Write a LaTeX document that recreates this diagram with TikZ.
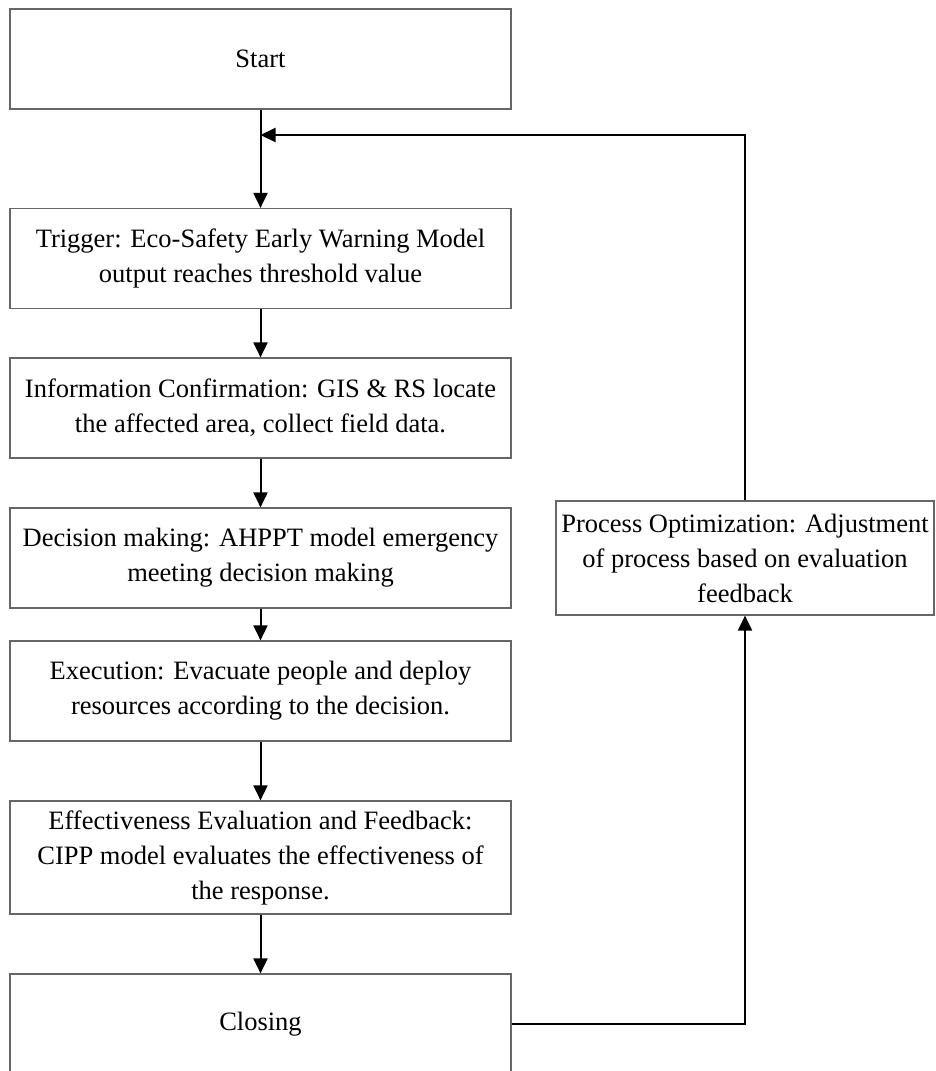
\documentclass[tikz,border=0pt]{standalone}
\usepackage{fontspec}
\setmainfont{Liberation Serif}
\usetikzlibrary{arrows.meta}
\begin{document}
\begin{tikzpicture}[x=1pt,y=1pt,
  box/.style={draw=black!60, line width=1.2pt, align=center, inner sep=0pt,
    font=\fontsize{26.5}{35}\selectfont, minimum width=501pt},
  flow/.style={line width=2pt, -{Triangle[length=15pt,width=14pt]}}]
\clip (0,0) rectangle (935,-1071);
\node[box, minimum height=100pt] (start) at (260.5,-59) {Start};
\node[box, minimum height=100pt] (trig) at (260.5,-258.5) {Trigger: Eco-Safety Early Warning Model\\output reaches threshold value};
\node[box, minimum height=100pt] (info) at (260.5,-408) {Information Confirmation: GIS \& RS locate\\the affected area, collect field data.};
\node[box, minimum height=100pt] (dec) at (260.5,-558) {Decision making: AHPPT model emergency\\meeting decision making};
\node[box, minimum height=100pt] (exe) at (260.5,-691) {Execution: Evacuate people and deploy\\resources according to the decision.};
\node[box, minimum height=113pt] (eff) at (260.5,-857.5) {Effectiveness Evaluation and Feedback:\\CIPP model evaluates the effectiveness of\\the response.};
\node[box, minimum height=100pt] (clos) at (260.5,-1024) {Closing};
\node[box, minimum width=378pt, minimum height=114pt] (proc) at (745,-558) {Process Optimization: Adjustment\\of process based on evaluation\\feedback};
\coordinate (loop) at (260.5,-135);
\draw[line width=2pt] (start.south) -- (loop);
\draw[flow] (loop) -- (trig.north);
\draw[flow] (trig) -- (info);
\draw[flow] (info) -- (dec);
\draw[flow] (dec) -- (exe);
\draw[flow] (exe) -- (eff);
\draw[flow] (eff) -- (clos);
\draw[flow] (clos.east) -| (proc.south);
\draw[flow] (proc.north) |- (loop);
\end{tikzpicture}
\end{document}
